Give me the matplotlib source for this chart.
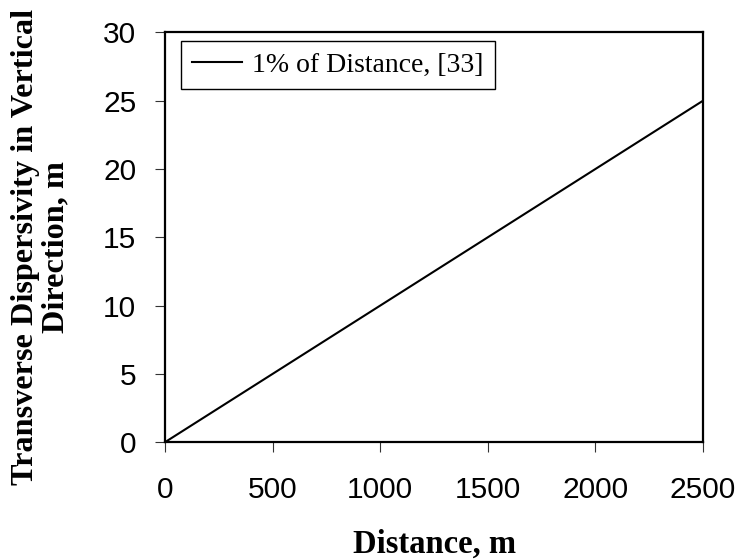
import numpy as np
from matplotlib import pyplot as plt

# transverse dispersivity taken as 1% of travel distance
distance = [0, 100, 200, 300, 400, 500, 600, 700, 800, 900, 1000, 1100, 1200,
            1300, 1400, 1500, 1600, 1700, 1800, 1900, 2000, 2100, 2200, 2300,
            2400, 2500]
dispersivity = [0, 1, 2, 3, 4, 5, 6, 7, 8, 9, 10, 11, 12, 13, 14, 15, 16, 17,
                18, 19, 20, 21, 22, 23, 24, 25]

x_ticks = [0, 500, 1000, 1500, 2000, 2500]
y_ticks = [0, 5, 10, 15, 20, 25, 30]

fig = plt.figure(figsize=(7.4, 5.59), dpi=100)
ax = fig.add_axes([0.223, 0.209, 0.727, 0.733])

ax.plot(distance, dispersivity, color='black', lw=1.5,
        label='1% of Distance, [33]')

ax.set_xlim(0, 2500)
ax.set_ylim(0, 30)
ax.set_xticks(x_ticks)
ax.set_yticks(y_ticks)

for sp in ax.spines.values():
    sp.set_linewidth(1.6)
ax.tick_params(direction='out', length=7.2, width=0.8, color='#333333')
ax.tick_params(axis='x', pad=17)
ax.tick_params(axis='y', pad=13.5)
for lab in ax.get_xticklabels() + ax.get_yticklabels():
    lab.set_fontfamily('Liberation Sans')
    lab.set_fontsize(21.5)

fig.text(0.587, 0.011, 'Distance, m', family='Liberation Serif',
         fontweight='bold', fontsize=23.5, ha='center', va='baseline')
fig.text(0.055, 0.558, 'Transverse Dispersivity in Vertical\nDirection, m',
         family='Liberation Serif', fontweight='bold', fontsize=23.2,
         rotation=90, ha='center', va='center', multialignment='center',
         linespacing=1.1)

leg = ax.legend(loc='upper left', bbox_to_anchor=(0.0297, 0.978),
                borderaxespad=0,
                prop={'family': 'Liberation Serif', 'size': 20},
                fancybox=False, framealpha=1, edgecolor='black',
                handlelength=1.8, handletextpad=0.36, borderpad=0.4)
leg.get_frame().set_linewidth(1)

fig.savefig('out.png', dpi=100)
